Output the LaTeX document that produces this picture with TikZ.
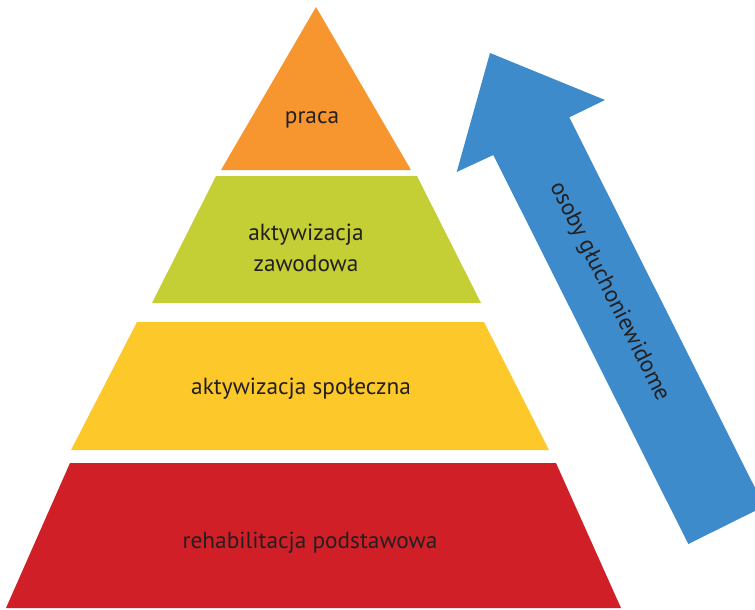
\documentclass[tikz,border=0pt]{standalone}
\usepackage{fontspec}
\setmainfont{PT Sans}
\definecolor{cOrange}{HTML}{F7962F}
\definecolor{cGreen}{HTML}{C4CE35}
\definecolor{cYellow}{HTML}{FDC92A}
\definecolor{cRed}{HTML}{D11F28}
\definecolor{cBlue}{HTML}{3D8BCA}
\definecolor{cText}{HTML}{231F20}
\begin{document}
\begin{tikzpicture}[x=1pt,y=-1pt,
  lbl/.style={text=cText,font=\fontsize{23.3}{31}\selectfont,align=center,inner sep=0pt}]
\useasboundingbox (0,0) rectangle (755,610);
\clip (0,0) rectangle (755,610);
% pyramid levels
\fill[cOrange] (316,7) -- (411,170) -- (221,170) -- cycle;
\fill[cGreen] (216,176) -- (417,176) -- (481,303) -- (152,303) -- cycle;
\fill[cYellow] (137,322) -- (484,322) -- (549,450) -- (71,450) -- cycle;
\fill[cRed] (70,463) -- (556,463) -- (621,608) -- (6,608) -- cycle;
% arrow
\fill[cBlue] (490,53) -- (605,100) -- (569.3,117.3) -- (764.3,506.3) -- (688.3,544) -- (493.3,155) -- (456.7,172) -- cycle;
% labels
\node[lbl] (praca) at (312,120) {praca};
\node[lbl] (zaw) at (306,248) {aktywizacja\\zawodowa};
\node[lbl] (spol) at (301,389) {aktywizacja społeczna};
\node[lbl] (reh) at (310,543) {rehabilitacja podstawowa};
\node[lbl,rotate=-63.4] (osoby) at (609,292) {osoby głuchoniewidome};
\end{tikzpicture}
\end{document}
